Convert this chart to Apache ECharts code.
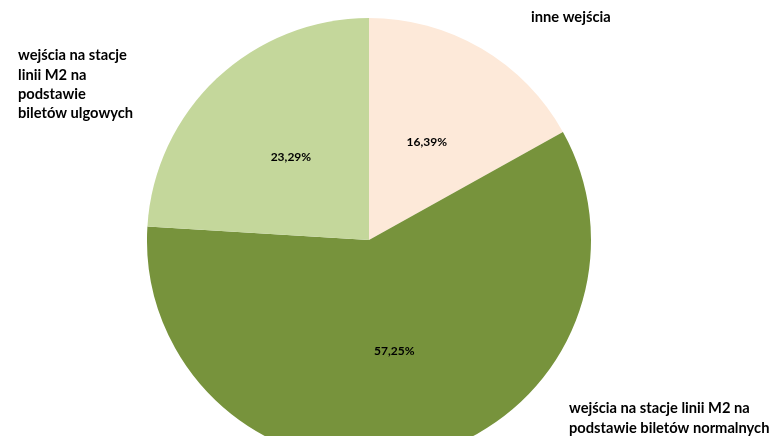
<!DOCTYPE html>
<html>
<head>
<meta charset="utf-8">
<script src="https://cdn.jsdelivr.net/npm/echarts@6/dist/echarts.min.js"></script>
<style>
  html, body { margin: 0; padding: 0; background: #fff; }
  #chart { width: 773px; height: 436px; }
</style>
</head>
<body>
<div id="chart"></div>
<script>
  // dane
  var categories = [
    'inne wejścia',
    'wejścia na stacje linii M2 na podstawie biletów normalnych',
    'wejścia na stacje linii M2 na podstawie biletów ulgowych'
  ];
  var values = [16.39, 57.25, 23.29];
  var colors = ['#FDE9D9', '#77933C', '#C4D79B'];

  // nazwy kategorii podzielone na linie jak w oryginale
  var nameLines = [
    ['inne wejścia'],
    ['wejścia na stacje linii M2 na', 'podstawie biletów normalnych'],
    ['wejścia na stacje', 'linii M2 na', 'podstawie', 'biletów ulgowych']
  ];
  var namePos = [[531, 17], [569, 408], [18, 55]];

  var font = 'Lato, "Open Sans", sans-serif';

  var ec = echarts.init(document.getElementById('chart'));

  var texts = [];
  nameLines.forEach(function (lines, i) {
    texts.push({
      type: 'text',
      left: namePos[i][0],
      top: namePos[i][1] - 9,
      style: {
        text: lines.join('\n'),
        fill: '#000',
        font: 'bold 14.7px ' + font,
        lineHeight: 19.3
      }
    });
  });

  ec.setOption({
    animation: false,
    graphic: texts,
    series: [
      {
        type: 'pie',
        center: [369, 240],
        radius: 222,
        startAngle: 90,
        clockwise: true,
        silent: true,
        label: {
          show: true,
          position: 'inside',
          color: '#000',
          fontFamily: font,
          fontWeight: 'bold',
          fontSize: 12,
          formatter: function (p) {
            return p.value.toFixed(2).replace('.', ',') + '%';
          }
        },
        labelLine: { show: false },
        itemStyle: { borderWidth: 0 },
        data: categories.map(function (c, i) {
          return { name: c, value: values[i], itemStyle: { color: colors[i] } };
        })
      }
    ]
  });

  window.addEventListener('resize', ec.resize);
</script>
</body>
</html>
